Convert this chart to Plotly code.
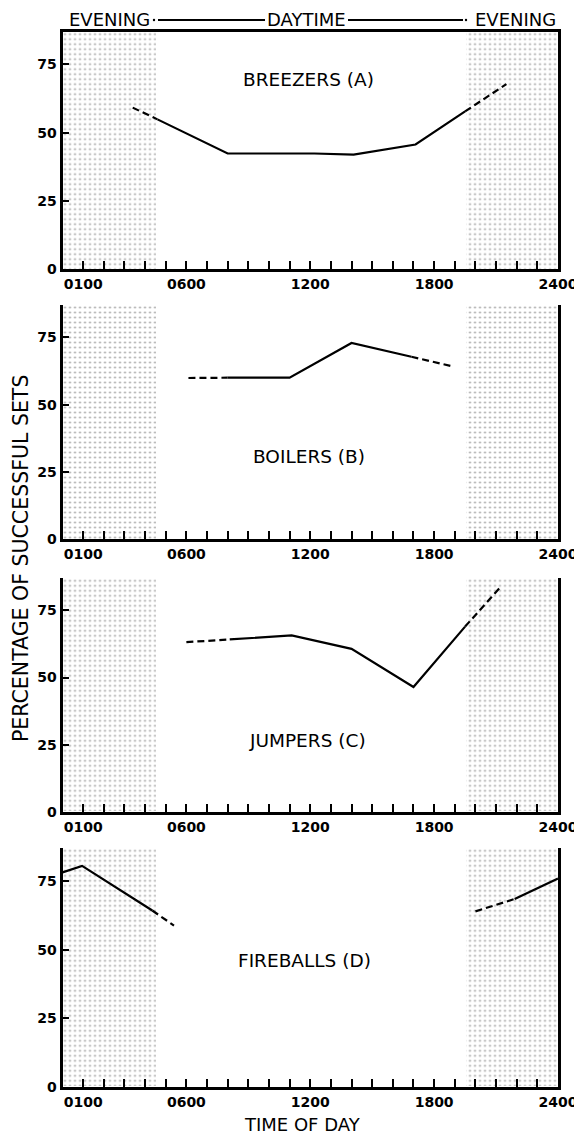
import plotly.graph_objects as go

# ---------------- data ----------------
TICK_HOURS = [1, 6, 12, 18, 24]
TICK_LABELS = ["0100", "0600", "1200", "1800", "2400"]
Y_TICKS = [0, 25, 50, 75]

EVENING_STARTS = [0.0, 19.5]
EVENING_ENDS = [4.5, 24.0]

PANEL_NAMES = ["BREEZERS (A)", "BOILERS (B)", "JUMPERS (C)", "FIREBALLS (D)"]

A_HOURS = [3.4, 4.6, 8.0, 12.2, 14.1, 17.1, 19.5, 21.5]
A_VALUES = [59.2, 54.9, 42.4, 42.4, 42.0, 45.7, 57.8, 67.8]
A_STYLE = ["dash", "solid", "solid", "solid", "solid", "solid", "dash"]

B_HOURS = [6.1, 8.0, 11.0, 14.0, 16.9, 18.9]
B_VALUES = [59.9, 60.0, 60.0, 72.9, 67.8, 64.2]
B_STYLE = ["dash", "solid", "solid", "solid", "dash"]

C_HOURS = [6.0, 8.1, 11.1, 14.0, 17.0, 19.5, 21.2]
C_VALUES = [63.2, 64.2, 65.7, 60.7, 46.5, 69.0, 83.6]
C_STYLE = ["dash", "solid", "solid", "solid", "solid", "dash"]

D_EARLY_HOURS = [0.0, 0.95, 4.35, 5.4]
D_EARLY_VALUES = [78.2, 80.6, 64.3, 58.8]
D_EARLY_STYLE = ["solid", "solid", "dash"]

D_LATE_HOURS = [20.0, 21.9, 24.0]
D_LATE_VALUES = [64.0, 68.5, 76.0]
D_LATE_STYLE = ["dash", "solid"]

SERIES = [
    [(A_HOURS, A_VALUES, A_STYLE)],
    [(B_HOURS, B_VALUES, B_STYLE)],
    [(C_HOURS, C_VALUES, C_STYLE)],
    [(D_EARLY_HOURS, D_EARLY_VALUES, D_EARLY_STYLE),
     (D_LATE_HOURS, D_LATE_VALUES, D_LATE_STYLE)],
]

# ---------------- layout geometry ----------------
OFF = 8                      # default page body margin
W, H = 582 - OFF, 1136 - OFF  # figure size
FONT = "DejaVu Sans"
Y_MAX = 87
PANEL_PX = [(31.7, 269.3), (305.0, 539.3), (578.3, 811.7), (848.3, 1086.7)]
LABEL_POS = [(11.9, 69.6), (11.95, 30.7), (11.85, 26.7), (11.7, 46.0)]


def px(xp):
    return (xp - OFF) / W


def py(yp):
    return 1 - (yp - OFF) / H


X_DOM = [px(62.5), px(558)]

fig = go.Figure()

tickvals = list(range(1, 25))
ticktext = [TICK_LABELS[TICK_HOURS.index(h)] if h in TICK_HOURS else "" for h in tickvals]

for i in range(4):
    n = "" if i == 0 else str(i + 1)
    xa, ya = "x" + n, "y" + n
    # evening shading (stipple)
    fig.add_trace(go.Bar(
        x=[(s + e) / 2 for s, e in zip(EVENING_STARTS, EVENING_ENDS)],
        y=[Y_MAX] * len(EVENING_STARTS),
        width=[e - s for s, e in zip(EVENING_STARTS, EVENING_ENDS)],
        marker=dict(color="white", line=dict(width=0),
                    pattern=dict(shape=".", fgcolor="#a0a0a0", bgcolor="white",
                                 size=5, solidity=0.12, fillmode="replace")),
        xaxis=xa, yaxis=ya, hoverinfo="skip", showlegend=False,
    ))
    # data lines, split into runs of equal style
    for hours, vals, styles in SERIES[i]:
        start = 0
        for k in range(1, len(styles) + 1):
            if k == len(styles) or styles[k] != styles[start]:
                st = styles[start]
                fig.add_trace(go.Scatter(
                    x=hours[start:k + 1], y=vals[start:k + 1], mode="lines",
                    line=dict(color="black", width=2.2,
                              dash="7px,4px" if st == "dash" else "solid"),
                    xaxis=xa, yaxis=ya, showlegend=False, hoverinfo="skip",
                    cliponaxis=False,
                ))
                start = k
    top, bot = PANEL_PX[i]
    fig.layout["xaxis" + n] = dict(
        domain=X_DOM, range=[0, 24], anchor=ya, showgrid=False, zeroline=False,
        showline=True, linewidth=3, linecolor="black", mirror=(i == 0),
        ticks="inside", ticklen=8, tickwidth=2, tickcolor="black",
        tickmode="array", tickvals=tickvals, ticktext=ticktext,
        tickfont=dict(family=FONT, size=14, color="black", weight="bold"),
        automargin=False,
    )
    fig.layout["yaxis" + n] = dict(
        domain=[py(bot), py(top)], range=[0, Y_MAX], anchor=xa, showgrid=False,
        zeroline=False, showline=True, linewidth=3, linecolor="black", mirror=True,
        ticks="inside", ticklen=6, tickwidth=2, tickcolor="black",
        tickmode="array", tickvals=Y_TICKS,
        tickfont=dict(family=FONT, size=14, color="black", weight="bold"),
        automargin=False,
    )
    lx, ly = LABEL_POS[i]
    fig.add_annotation(x=lx, y=ly, xref=xa, yref=ya, text=PANEL_NAMES[i],
                       xanchor="center", yanchor="middle",
                       showarrow=False, font=dict(family=FONT, size=18.5, color="black"))

# header
for txt, cx in [("EVENING", 109), ("DAYTIME", 306.5), ("EVENING", 515)]:
    fig.add_annotation(x=px(cx), y=py(19.5), xref="paper", yref="paper", text=txt,
                       xanchor="center", yanchor="middle",
                       showarrow=False, font=dict(family=FONT, size=18, color="black"))
for x0, x1 in [(158, 265), (348, 463)]:
    fig.add_shape(type="line", xref="paper", yref="paper", x0=px(x0), x1=px(x1),
                  y0=py(20), y1=py(20), line=dict(color="black", width=1.8))
for cx in [154, 466]:
    fig.add_shape(type="circle", xref="paper", yref="paper",
                  x0=px(cx - 1.2), x1=px(cx + 1.2), y0=py(21.2), y1=py(18.8),
                  fillcolor="black", line=dict(width=0))

# axis titles
fig.add_annotation(x=0, y=py(559), xref="paper", yref="paper",
                   xanchor="left", yanchor="middle", borderpad=0,
                   text="PERCENTAGE OF SUCCESSFUL SETS", textangle=-90, showarrow=False,
                   font=dict(family=FONT, size=20.5, color="black"))
fig.add_annotation(x=px(302), y=0, xref="paper", yref="paper",
                   xanchor="center", yanchor="bottom", borderpad=0,
                   text="TIME OF DAY", showarrow=False,
                   font=dict(family=FONT, size=18, color="black"))

fig.update_layout(
    width=W, height=H, margin=dict(l=0, r=0, t=0, b=0),
    paper_bgcolor="white", plot_bgcolor="white", barmode="overlay", bargap=0,
    showlegend=False,
)

fig.write_html("out.html")
